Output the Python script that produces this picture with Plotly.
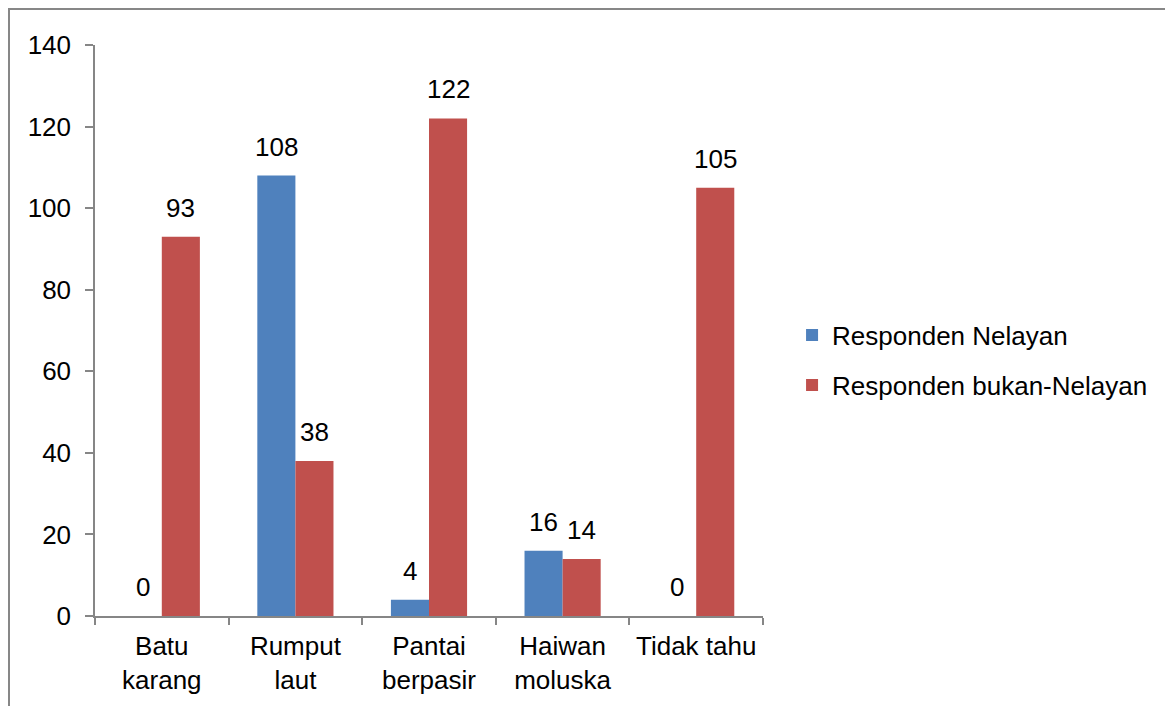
import plotly.graph_objects as go

categories = ["Batu karang", "Rumput laut", "Pantai berpasir", "Haiwan moluska", "Tidak tahu"]
tick_labels = ["Batu<br>karang", "Rumput<br>laut", "Pantai<br>berpasir", "Haiwan<br>moluska", "Tidak tahu"]
series_names = ["Responden Nelayan", "Responden bukan-Nelayan"]
nelayan = [0, 108, 4, 16, 0]
bukan_nelayan = [93, 38, 122, 14, 105]

colors = ["#4F81BD", "#C0504D"]
FONT = "Arial, Liberation Sans, sans-serif"
FS = 26
AXIS_COLOR = "#868686"

fig = go.Figure()
series = [nelayan, bukan_nelayan]
for i, (name, vals) in enumerate(zip(series_names, series)):
    fig.add_trace(go.Bar(
        x=categories, y=vals, name=name,
        marker=dict(color=colors[i], line=dict(width=0)),
        legendgroup=f"g{i}",
    ))

annotations = []
shifts = [-19, 19]
for i, vals in enumerate(series):
    for c, v in zip(categories, vals):
        annotations.append(dict(
            x=c, y=v, xref="x", yref="y", text=str(v), showarrow=False,
            xshift=shifts[i], yshift=29, yanchor="middle", xanchor="center",
            font=dict(family=FONT, size=FS, color="black"),
        ))

# page body has an 8px margin; figure is sized/placed to compensate
fig.update_layout(
    width=1165, height=698,
    margin=dict(l=87, r=410, t=37, b=90),
    paper_bgcolor="white", plot_bgcolor="white",
    barmode="group", bargap=0.43, bargroupgap=0,
    font=dict(family=FONT, size=FS, color="black"),
    showlegend=True,
    legend=dict(
        x=1.0435, xanchor="left", y=0.448, yanchor="middle",
        traceorder="grouped", tracegroupgap=13,
        font=dict(family=FONT, size=FS, color="black"),
        bgcolor="rgba(0,0,0,0)",
    ),
    annotations=annotations,
    xaxis=dict(
        tickmode="array", tickvals=categories, ticktext=tick_labels,
        showline=True, linecolor=AXIS_COLOR, linewidth=1.5,
        ticks="outside", tickson="boundaries", ticklen=7, tickcolor=AXIS_COLOR, tickwidth=1.5,
        showgrid=False, ticklabelstandoff=6,
        tickfont=dict(family=FONT, size=FS, color="black"),
    ),
    yaxis=dict(
        range=[0, 140], dtick=20, tick0=0,
        showline=True, linecolor=AXIS_COLOR, linewidth=1.5,
        ticks="outside", ticklen=8, tickcolor=AXIS_COLOR, tickwidth=1.5,
        showgrid=False, zeroline=False, ticklabelstandoff=9,
        tickfont=dict(family=FONT, size=FS, color="black"),
    ),
    shapes=[dict(
        type="rect", xref="paper", yref="paper",
        xsizemode="pixel", ysizemode="pixel", xanchor=0, yanchor=1,
        x0=-86, x1=1200, y0=-800, y1=36,
        line=dict(color="#878787", width=2), fillcolor="rgba(0,0,0,0)",
        layer="below",
    )],
)

fig.write_html("out.html")
